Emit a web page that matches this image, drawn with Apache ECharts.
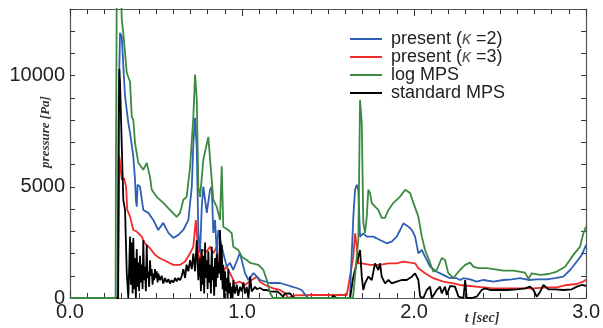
<!DOCTYPE html>
<html>
<head>
<meta charset="utf-8">
<script src="https://cdn.jsdelivr.net/npm/echarts@6/dist/echarts.min.js"></script>
<style>
  html, body { margin: 0; padding: 0; background: #fff; }
  #chart { width: 603px; height: 328px; }
</style>
</head>
<body>
<div id="chart"></div>
<script>
// series names (legend order)
const seriesNames = ["present (κ =2)", "present (κ =3)", "log MPS", "standard MPS"];
const xTicks = [0, 1, 2, 3];
const yLabels = [0, 5000, 10000];

// [t (sec), pressure (Pa)]
const presentK2 = [
  [0, 0], [0.276, 0], [0.283, 9000], [0.291, 11930], [0.301, 11770], [0.310, 10420],
  [0.320, 9070], [0.339, 7880], [0.349, 7430], [0.368, 6370], [0.378, 5320], [0.383, 4410],
  [0.388, 4110], [0.393, 5090], [0.407, 5010], [0.426, 3960], [0.455, 3830], [0.484, 3510],
  [0.513, 3060], [0.542, 3380], [0.572, 2930], [0.601, 2700], [0.630, 2840], [0.659, 3060],
  [0.688, 3510], [0.708, 5010], [0.717, 6970], [0.727, 8110], [0.737, 6670], [0.746, 2930],
  [0.756, 2030], [0.766, 4110], [0.775, 5010], [0.795, 3830], [0.814, 4870], [0.824, 5010],
  [0.833, 2930], [0.843, 3510], [0.853, 2030], [0.862, 3060], [0.882, 2310], [0.911, 1410],
  [0.930, 1580], [0.949, 1260], [0.988, 2030], [1.017, 1120], [1.037, 810], [1.066, 1120],
  [1.105, 810], [1.163, 675], [1.221, 675], [1.260, 585], [1.289, 510], [1.318, 450],
  [1.347, 360], [1.376, 60], [1.39, 0], [1.628, 0], [1.632, 960], [1.647, 3660], [1.657, 4870],
  [1.667, 5090], [1.676, 4870], [1.686, 2760], [1.705, 2910], [1.725, 2760], [1.763, 2760],
  [1.802, 2610], [1.841, 2460], [1.870, 2540], [1.899, 2760], [1.919, 3060], [1.938, 3360],
  [1.948, 3440], [1.967, 3210], [1.987, 3060], [2.006, 2760], [2.025, 2010], [2.045, 2160],
  [2.064, 1860], [2.093, 1410], [2.132, 1180], [2.170, 1040], [2.209, 890], [2.248, 890],
  [2.267, 810], [2.287, 890], [2.326, 840], [2.364, 735], [2.403, 810], [2.461, 735],
  [2.519, 810], [2.568, 840], [2.616, 890], [2.665, 810], [2.713, 840], [2.772, 840],
  [2.820, 890], [2.868, 960], [2.907, 1260], [2.946, 1640], [2.975, 1940], [3.0, 2390]
];

const presentK3 = [
  [0, 0], [0.278, 0], [0.281, 2310], [0.287, 6370], [0.301, 5320], [0.314, 5390], [0.326, 5010],
  [0.333, 3960], [0.349, 3660], [0.368, 3060], [0.388, 2990], [0.417, 2760], [0.436, 2460],
  [0.465, 2240], [0.494, 1940], [0.523, 1790], [0.562, 1640], [0.601, 1490], [0.640, 1490],
  [0.669, 1640], [0.698, 2010], [0.717, 2310], [0.731, 3510], [0.740, 2610], [0.750, 1560],
  [0.766, 2160], [0.795, 2090], [0.814, 2310], [0.833, 2010], [0.853, 2310], [0.862, 1410],
  [0.882, 1110], [0.911, 1410], [0.940, 960], [0.959, 660], [0.988, 735], [1.017, 585],
  [1.056, 810], [1.085, 960], [1.105, 735], [1.134, 585], [1.182, 435], [1.221, 360],
  [1.250, 210], [1.269, 0], [1.30, 120], [1.40, 135], [1.50, 135], [1.609, 135], [1.647, 1860],
  [1.657, 2910], [1.667, 2310], [1.676, 1560], [1.696, 1560], [1.744, 1490], [1.802, 1490],
  [1.851, 1560], [1.899, 1560], [1.938, 1640], [1.977, 1590], [2.006, 1560], [2.025, 1340],
  [2.064, 1110], [2.112, 890], [2.170, 735], [2.228, 660], [2.267, 585], [2.326, 540],
  [2.403, 480], [2.461, 435], [2.539, 435], [2.616, 435], [2.694, 435], [2.772, 480],
  [2.830, 480], [2.888, 585], [2.946, 630], [2.984, 735], [3.0, 840]
];

const logMPS = [
  [0, 0], [0.265, 0], [0.267, 5850], [0.272, 14000], [0.296, 14000], [0.301, 12520],
  [0.310, 11900], [0.330, 10130], [0.349, 9730], [0.359, 8150], [0.368, 8020], [0.378, 6980],
  [0.397, 6080], [0.426, 5770], [0.446, 6080], [0.465, 5450], [0.475, 4870], [0.504, 4550],
  [0.542, 4280], [0.581, 3960], [0.620, 3650], [0.640, 3830], [0.659, 4420], [0.678, 4550],
  [0.698, 5900], [0.717, 8150], [0.727, 10050], [0.737, 8920], [0.746, 5000], [0.756, 4550],
  [0.775, 6220], [0.804, 7250], [0.814, 7270], [0.833, 4420], [0.853, 4100], [0.872, 3510],
  [0.882, 5920], [0.891, 3210], [0.920, 3060], [0.940, 2920], [0.949, 2310], [0.978, 2160],
  [0.998, 1860], [1.027, 1710], [1.047, 1580], [1.095, 1490], [1.124, 1260], [1.144, 810],
  [1.163, 225], [1.180, 0], [1.645, 0], [1.676, 2610], [1.686, 8920], [1.696, 7880],
  [1.705, 3380], [1.715, 2930], [1.725, 3660], [1.734, 4870], [1.744, 4720], [1.754, 4280],
  [1.773, 4110], [1.792, 3960], [1.812, 3600], [1.831, 3600], [1.851, 3960], [1.880, 4280],
  [1.919, 4560], [1.948, 4870], [1.977, 4720], [1.996, 4280], [2.025, 3660], [2.045, 2760],
  [2.064, 2160], [2.093, 1580], [2.112, 1180], [2.132, 1260], [2.161, 1800], [2.180, 1710],
  [2.199, 1120], [2.228, 900], [2.267, 1260], [2.297, 1490], [2.326, 1590], [2.345, 1410],
  [2.374, 1340], [2.423, 1340], [2.471, 1290], [2.519, 1230], [2.577, 1230], [2.645, 1140],
  [2.665, 860], [2.684, 1110], [2.733, 1040], [2.781, 1080], [2.830, 1190], [2.878, 1410],
  [2.926, 1940], [2.965, 2310], [2.984, 2910], [3.0, 3210]
];

const standardMPS = [
  [0, 0], [0.280, 0], [0.284, 8000], [0.287, 10300], [0.291, 9670], [0.301, 6820],
  [0.310, 4410], [0.320, 3960], [0.330, 1110], [0.339, 0], [0.349, 2760], [0.354, 600],
  [0.359, 2500], [0.364, 200], [0.368, 2700], [0.373, 400], [0.378, 1800], [0.383, 0],
  [0.388, 2200], [0.393, 500], [0.397, 1600], [0.402, 300], [0.407, 1900], [0.412, 700],
  [0.417, 1500], [0.422, 400], [0.426, 2600], [0.431, 800], [0.436, 1400], [0.441, 300],
  [0.446, 2400], [0.450, 900], [0.455, 1200], [0.460, 500], [0.465, 1700], [0.470, 1000],
  [0.475, 1300], [0.480, 600], [0.484, 1100], [0.489, 800], [0.494, 1300], [0.499, 900],
  [0.504, 1200], [0.509, 700], [0.513, 1100], [0.523, 800], [0.533, 1000], [0.542, 650],
  [0.552, 900], [0.562, 700], [0.572, 850], [0.581, 650], [0.591, 800], [0.601, 700],
  [0.611, 900], [0.620, 750], [0.630, 900], [0.640, 800], [0.650, 1000], [0.659, 1300],
  [0.669, 900], [0.678, 1500], [0.688, 1200], [0.698, 1700], [0.708, 1300], [0.717, 2000],
  [0.727, 1200], [0.737, 2600], [0.746, 800], [0.756, 1800], [0.761, 300], [0.766, 2200],
  [0.771, 600], [0.775, 1900], [0.780, 200], [0.785, 2500], [0.790, 900], [0.795, 1700],
  [0.800, 400], [0.804, 2100], [0.809, 700], [0.814, 1500], [0.819, 200], [0.824, 2300],
  [0.829, 800], [0.833, 1400], [0.838, 100], [0.843, 1800], [0.848, 500], [0.853, 2000],
  [0.858, 900], [0.862, 1600], [0.867, 1100], [0.872, 3060], [0.877, 800], [0.882, 2400],
  [0.887, 400], [0.891, 1500], [0.896, 0], [0.901, 1200], [0.906, 300], [0.911, 900],
  [0.916, 0], [0.920, 1300], [0.925, 200], [0.930, 700], [0.935, 0], [0.940, 500],
  [0.945, 0], [0.949, 800], [0.959, 200], [0.969, 600], [0.978, 100], [0.988, 500],
  [0.998, 300], [1.008, 700], [1.017, 200], [1.027, 500], [1.037, 0], [1.047, 960],
  [1.056, 300], [1.066, 360], [1.076, 500], [1.085, 400], [1.095, 350], [1.105, 450],
  [1.124, 360], [1.144, 360], [1.163, 300], [1.182, 285], [1.202, 300], [1.221, 200],
  [1.238, 60], [1.250, 200], [1.260, 250], [1.279, 210], [1.289, 100], [1.308, 0],
  [1.52, 0], [1.53, 100], [1.55, 0], [1.628, 0], [1.647, 960], [1.676, 1860], [1.686, 2160],
  [1.696, 960], [1.705, 360], [1.715, 660], [1.734, 960], [1.754, 810], [1.773, 1560],
  [1.783, 1640], [1.792, 1260], [1.802, 1560], [1.812, 960], [1.831, 660], [1.851, 810],
  [1.870, 660], [1.899, 735], [1.928, 810], [1.957, 810], [1.987, 960], [2.006, 1110],
  [2.025, 810], [2.035, 60], [2.054, 0], [2.074, 360], [2.093, 510], [2.103, 0], [2.132, 360],
  [2.151, 510], [2.161, 210], [2.180, 510], [2.190, 135], [2.209, 540], [2.238, 510],
  [2.258, 60], [2.267, 0], [2.287, 0], [2.297, 810], [2.306, 0], [2.335, 0], [2.364, 60],
  [2.393, 360], [2.413, 435], [2.442, 360], [2.490, 360], [2.539, 360], [2.597, 390],
  [2.645, 435], [2.674, 510], [2.694, 360], [2.713, 60], [2.733, 285], [2.752, 585],
  [2.781, 390], [2.820, 390], [2.868, 360], [2.917, 390], [2.946, 510], [2.975, 585], [3.0, 540]
];

const chart = echarts.init(document.getElementById("chart"));

const frame = { show: true, onZero: false, lineStyle: { color: "#555", width: 1.2 } };
const font = "Liberation Sans";

const xAxisBase = {
  type: "value",
  min: 0,
  max: 3,
  interval: 1,
  axisLine: frame,
  axisTick: { show: true, inside: true, length: 7, lineStyle: { color: "#333" } },
  minorTick: { show: true, splitNumber: 10, length: 5, lineStyle: { color: "#333" } },
  splitLine: { show: false },
};

const yAxisBase = {
  type: "value",
  min: 0,
  max: 13000,
  interval: 1000,
  axisLine: frame,
  axisTick: { show: true, inside: true, length: 5, lineStyle: { color: "#333" } },
  splitLine: { show: false },
};

function line(name, data, color, z) {
  return {
    name: name,
    type: "line",
    data: data,
    showSymbol: false,
    clip: true,
    z: z,
    lineStyle: { color: color, width: 1.8 },
    itemStyle: { color: color },
  };
}

const option = {
  animation: false,
  grid: { left: 70, right: 15, top: 9, bottom: 30 },
  xAxis: [
    {
      ...xAxisBase,
      position: "bottom",
      axisLabel: {
        formatter: (v) => (xTicks.includes(v) ? v.toFixed(1) : ""),
        fontSize: 20,
        color: "#222",
        fontFamily: font,
        margin: 4,
      },
    },
    { ...xAxisBase, position: "top", axisLabel: { show: false } },
  ],
  yAxis: [
    {
      ...yAxisBase,
      position: "left",
      axisLabel: {
        formatter: (v) => (yLabels.includes(v) ? String(v) : ""),
        fontSize: 20,
        color: "#222",
        fontFamily: font,
        margin: 5,
      },
    },
    { ...yAxisBase, position: "right", axisLabel: { show: false } },
  ],
  legend: {
    data: seriesNames,
    orient: "vertical",
    left: 350,
    top: 30,
    padding: 0,
    itemGap: 0,
    itemWidth: 32,
    itemHeight: 2,
    icon: "rect",
    formatter: (name) => name.replace("κ", "{k|κ}"),
    textStyle: {
      fontSize: 18,
      lineHeight: 18,
      color: "#222",
      fontFamily: font,
      padding: [0, 0, 0, 4],
      rich: { k: { fontSize: 18, fontStyle: "italic", color: "#555", fontFamily: font } },
    },
  },
  graphic: [
    {
      type: "text",
      x: 46,
      y: 132,
      rotation: Math.PI / 2,
      style: {
        text: "pressure [Pa]",
        font: "italic bold 13px 'Liberation Serif'",
        fill: "#333",
        align: "center",
        verticalAlign: "middle",
      },
    },
    {
      type: "text",
      x: 482,
      y: 318,
      style: {
        text: "t [sec]",
        font: "italic bold 14px 'Liberation Serif'",
        fill: "#333",
        align: "center",
        verticalAlign: "middle",
      },
    },
  ],
  series: [
    line(seriesNames[1], presentK3, "#ee2c2c", 2),
    line(seriesNames[0], presentK2, "#2e5fb5", 3),
    line(seriesNames[3], standardMPS, "#000000", 4),
    line(seriesNames[2], logMPS, "#3b8a40", 5),
  ],
};

chart.setOption(option);
</script>
</body>
</html>
